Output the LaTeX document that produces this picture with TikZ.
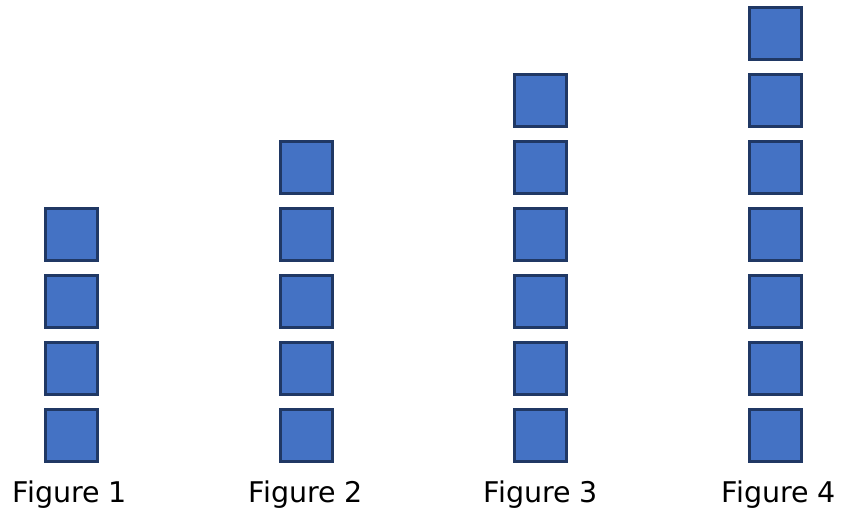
\documentclass[tikz,border=0pt]{standalone}
\usepackage{fontspec}
\setmainfont{DejaVu Sans}
\definecolor{sqfill}{RGB}{68,114,196}
\definecolor{sqline}{RGB}{32,56,100}
\begin{document}
\begin{tikzpicture}[x=1pt,y=1pt,
  sq/.style={draw=sqline,fill=sqfill,line width=2.6pt,minimum size=52.5pt,inner sep=0pt,outer sep=0pt},
  lbl/.style={anchor=base,font=\fontsize{28.5}{32}\selectfont,inner sep=0pt}]
\useasboundingbox (0,0) rectangle (842,513);
% Figure 1
\foreach \i in {1,...,4} {
  \node[sq] (a\i) at (71.5,{513-435.5+67*(\i-1)}) {};
}
% Figure 2
\foreach \i in {1,...,5} {
  \node[sq] (b\i) at (306.5,{513-435.5+67*(\i-1)}) {};
}
% Figure 3
\foreach \i in {1,...,6} {
  \node[sq] (c\i) at (540.5,{513-435.5+67*(\i-1)}) {};
}
% Figure 4
\foreach \i in {1,...,7} {
  \node[sq] (d\i) at (775.5,{513-435.5+67*(\i-1)}) {};
}
\node[lbl] (l1) at (70,10) {Figure 1};
\node[lbl] (l2) at (306,10) {Figure 2};
\node[lbl] (l3) at (541,10) {Figure 3};
\node[lbl] (l4) at (779,10) {Figure 4};
\end{tikzpicture}
\end{document}
